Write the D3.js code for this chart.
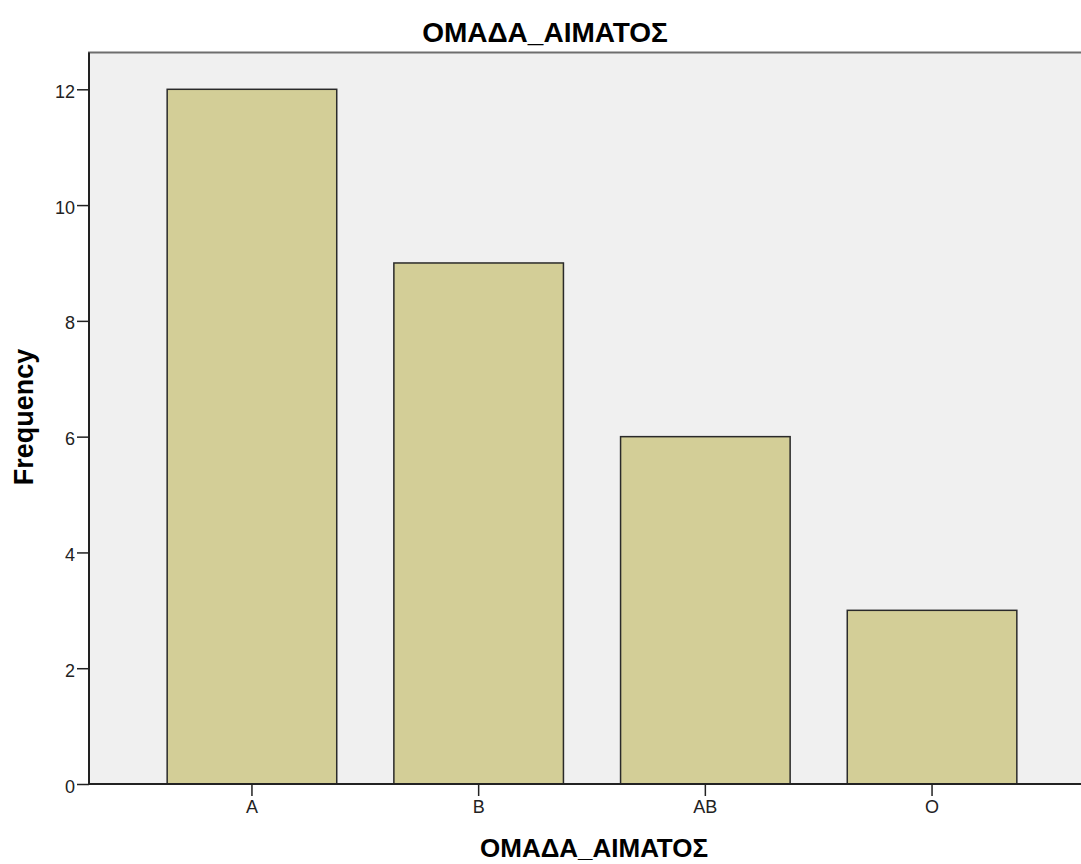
<!DOCTYPE html>
<html><head><meta charset="utf-8">
<script src="https://cdn.jsdelivr.net/npm/d3@7"></script>
<style>body{margin:0;background:#fff}svg{display:block}text{font-family:"Liberation Sans",Arial,sans-serif}</style>
</head><body>
<script>
const categories = ["A", "B", "AB", "O"];
const frequencies = [12, 9, 6, 3];
const yTicks = [0, 2, 4, 6, 8, 10, 12];
const chartTitle = "ΟΜΑΔΑ_ΑΙΜΑΤΟΣ";
const xTitle = "ΟΜΑΔΑ_ΑΙΜΑΤΟΣ";
const yTitle = "Frequency";

const W = 1081, H = 864;
const plot = {left: 89, top: 52.5, right: 1120, bottom: 784};
const svg = d3.select("body").append("svg").attr("width", W).attr("height", H);

const y = d3.scaleLinear().domain([0, 12]).range([784, 89.3]);
const x = d3.scaleBand().domain(categories).range([138.6, 1045.4]).paddingInner(0.252).paddingOuter(0.126);

svg.append("rect").attr("x", plot.left).attr("y", plot.top)
  .attr("width", plot.right - plot.left).attr("height", plot.bottom - plot.top)
  .attr("fill", "#f0f0f0").attr("stroke", "#6e6e6e").attr("stroke-width", 2);

svg.append("g").selectAll("rect").data(frequencies).join("rect")
  .attr("x", (d, i) => x(categories[i]))
  .attr("y", d => y(d))
  .attr("width", x.bandwidth())
  .attr("height", d => y(0) - y(d))
  .attr("fill", "#d3ce97").attr("stroke", "#2a2a2a").attr("stroke-width", 1.5);

const yAxis = svg.append("g").attr("transform", `translate(${plot.left},0)`)
  .call(d3.axisLeft(y).tickValues(yTicks).tickSize(12).tickPadding(2).tickFormat(d3.format("d")));
const xAxis = svg.append("g").attr("transform", `translate(0,${plot.bottom})`)
  .call(d3.axisBottom(x).tickSize(12).tickPadding(4));
[yAxis, xAxis].forEach(g => {
  g.selectAll("path.domain").attr("stroke", "#222").attr("stroke-width", 2);
  g.selectAll(".tick line").attr("stroke", "#222").attr("stroke-width", 1.5);
  g.selectAll(".tick text").attr("font-size", 18).attr("fill", "#222")
    .attr("font-family", "'Liberation Sans', Arial, sans-serif");
});
yAxis.selectAll(".tick text").attr("dy", "0.45em");
xAxis.select("path.domain").attr("d", `M${plot.left},0H${W + 20}`);
yAxis.select("path.domain").attr("d", `M0,${plot.top}V${plot.bottom}`);

svg.append("text").attr("x", 545).attr("y", 42).attr("text-anchor", "middle")
  .attr("font-size", 28).attr("font-weight", "bold").attr("fill", "#000").text(chartTitle);
svg.append("text").attr("x", 480).attr("y", 857).attr("text-anchor", "start")
  .attr("font-size", 26).attr("font-weight", "bold").attr("fill", "#000").text(xTitle);
svg.append("text").attr("transform", "translate(33,417) rotate(-90)").attr("text-anchor", "middle")
  .attr("font-size", 27).attr("font-weight", "bold").attr("fill", "#000").text(yTitle);
</script>
</body></html>
